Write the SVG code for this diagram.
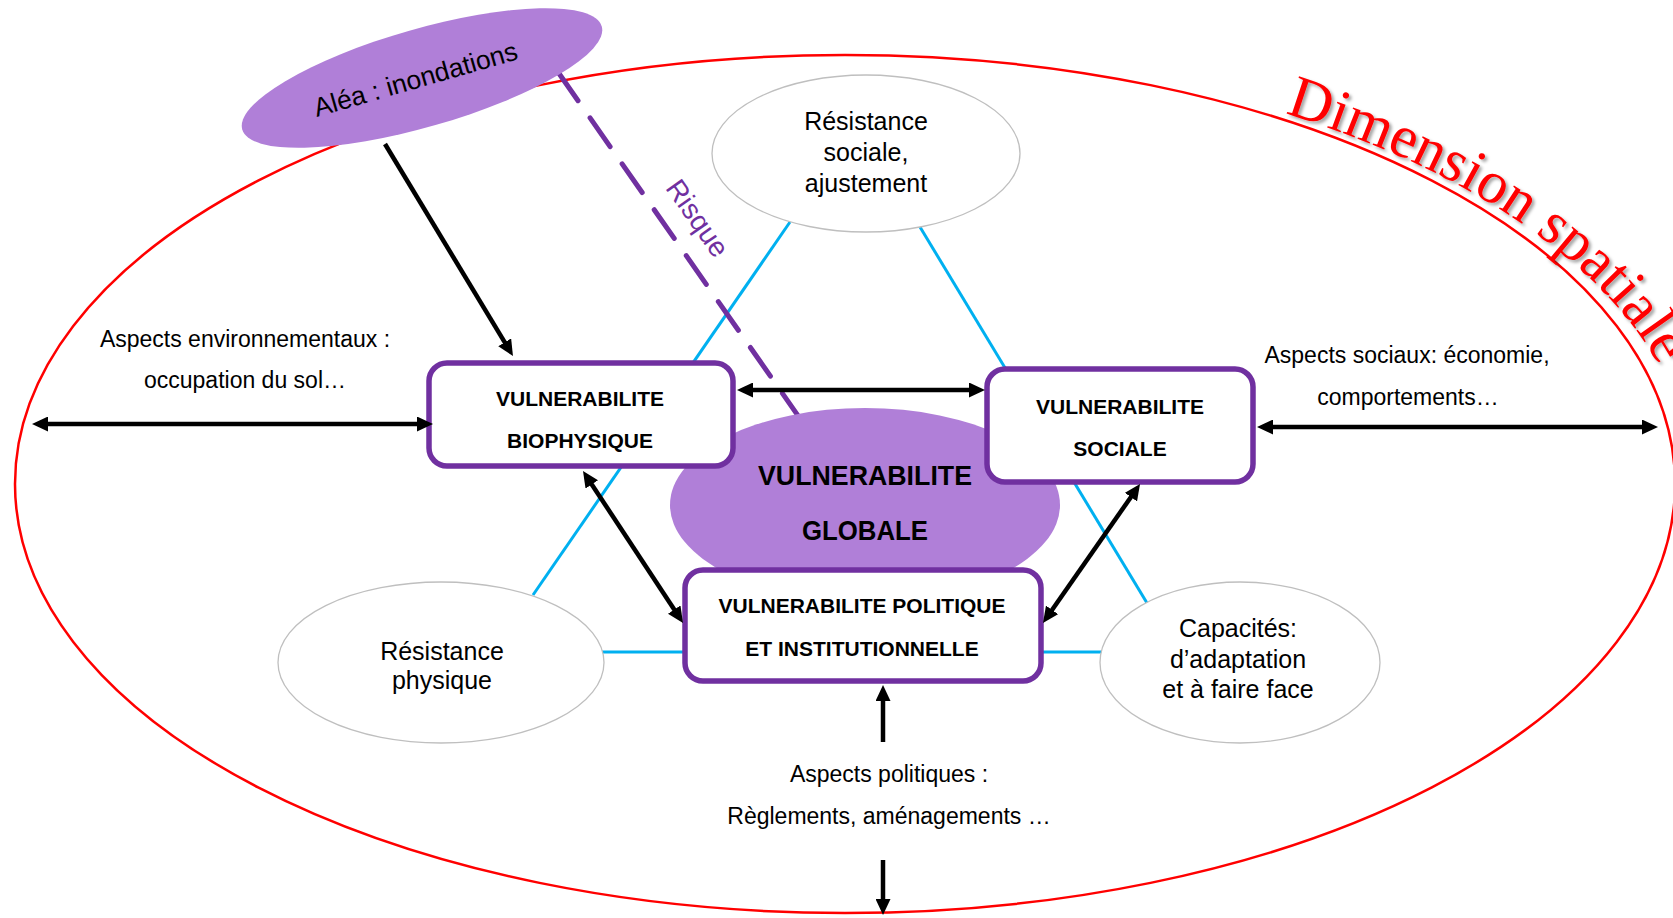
<svg xmlns="http://www.w3.org/2000/svg" width="1673" height="918" viewBox="0 0 1673 918">
<defs>
<style>
.txt{font-family:"Liberation Sans",Arial,sans-serif;fill:#000}
.asp{font-size:23px}
.ell{font-size:25px}
.bx{font-size:21px;font-weight:bold}
.box{fill:#fff;stroke:#7030a0;stroke-width:5.5}
.oval{fill:#fff;stroke:#bfbfbf;stroke-width:1.3}
.blue{stroke:#00b0f0;stroke-width:3;fill:none}
.arr{stroke:#000;stroke-width:4.5;fill:none}
.purp{fill:#b07fd8}
</style>
<marker id="ah" viewBox="0 0 16 15" markerUnits="userSpaceOnUse" markerWidth="16" markerHeight="15" refX="6" refY="7.5" orient="auto-start-reverse">
<path d="M0,0 L16,7.5 L0,15 z" fill="#000"/>
</marker>
<filter id="sh" x="-10%" y="-10%" width="130%" height="130%">
<feDropShadow dx="2.5" dy="2.5" stdDeviation="1.5" flood-color="#000" flood-opacity="0.35"/>
</filter>
<path id="arcp" d="M 845 50 A 846 434 0 0 1 1691 484"/>
</defs>

<g id="spatial">
<ellipse cx="845" cy="484" rx="830" ry="429" fill="none" stroke="#ff0000" stroke-width="2.5"/>
<text font-family="'Liberation Serif','Times New Roman',serif" font-size="60" fill="#ff0000" filter="url(#sh)"><textPath href="#arcp" startOffset="446">Dimension spatiale</textPath></text>
</g>

<g id="triangle">
<line class="blue" x1="790" y1="222" x2="533" y2="595"/>
<line class="blue" x1="920" y1="227" x2="1147" y2="603"/>
<line class="blue" x1="600" y1="652" x2="1105" y2="652"/>
</g>

<g id="res-sociale">
<ellipse class="oval" cx="866" cy="153.5" rx="154" ry="78.5"/>
<text class="txt ell" text-anchor="middle" x="866" y="130">Résistance</text>
<text class="txt ell" text-anchor="middle" x="866" y="161">sociale,</text>
<text class="txt ell" text-anchor="middle" x="866" y="192">ajustement</text>
</g>

<g id="res-physique">
<ellipse class="oval" cx="441" cy="662.5" rx="163" ry="80.5"/>
<text class="txt ell" text-anchor="middle" x="442" y="660">Résistance</text>
<text class="txt ell" text-anchor="middle" x="442" y="689">physique</text>
</g>

<g id="capacites">
<ellipse class="oval" cx="1240" cy="662.5" rx="140" ry="80.5"/>
<text class="txt ell" text-anchor="middle" x="1238" y="637">Capacités:</text>
<text class="txt ell" text-anchor="middle" x="1238" y="668">d’adaptation</text>
<text class="txt ell" text-anchor="middle" x="1238" y="698">et à faire face</text>
</g>

<g id="risque">
<line x1="558" y1="72" x2="815" y2="440" stroke="#7030a0" stroke-width="5" stroke-dasharray="35 21" stroke-linecap="round"/>
<text class="txt" font-size="28" style="fill:#7030a0" text-anchor="middle" transform="translate(698,218) rotate(55)" y="10">Risque</text>
</g>

<g id="globale">
<ellipse class="purp" cx="865" cy="505" rx="195" ry="97"/>
<text class="txt" font-size="28" font-weight="bold" text-anchor="middle" x="865" y="485" textLength="214" lengthAdjust="spacingAndGlyphs">VULNERABILITE</text>
<text class="txt" font-size="28" font-weight="bold" text-anchor="middle" x="865" y="540" textLength="126" lengthAdjust="spacingAndGlyphs">GLOBALE</text>
</g>

<g id="alea">
<ellipse class="purp" cx="422" cy="78" rx="187" ry="49" transform="rotate(-16 422 78)"/>
<text class="txt" font-size="26.5" text-anchor="middle" transform="translate(418,88) rotate(-16)">Aléa : inondations</text>
</g>

<g id="biophysique">
<rect class="box" x="429" y="363" width="304" height="103" rx="18"/>
<text class="txt bx" text-anchor="middle" x="580" y="406">VULNERABILITE</text>
<text class="txt bx" text-anchor="middle" x="580" y="448">BIOPHYSIQUE</text>
</g>

<g id="sociale">
<rect class="box" x="987" y="369" width="266" height="113" rx="18"/>
<text class="txt bx" text-anchor="middle" x="1120" y="414">VULNERABILITE</text>
<text class="txt bx" text-anchor="middle" x="1120" y="456">SOCIALE</text>
</g>

<g id="politique">
<rect class="box" x="685" y="570" width="356" height="111" rx="18"/>
<text class="txt bx" text-anchor="middle" x="862" y="613">VULNERABILITE POLITIQUE</text>
<text class="txt bx" text-anchor="middle" x="862" y="656">ET INSTITUTIONNELLE</text>
</g>

<g id="aspects">
<text class="txt asp" text-anchor="middle" x="245" y="347">Aspects environnementaux :</text>
<text class="txt asp" text-anchor="middle" x="245" y="388">occupation du sol…</text>
<text class="txt asp" text-anchor="middle" x="1407" y="363">Aspects sociaux: économie,</text>
<text class="txt asp" text-anchor="middle" x="1408" y="405">comportements…</text>
<text class="txt asp" text-anchor="middle" x="889" y="782">Aspects politiques :</text>
<text class="txt asp" text-anchor="middle" x="889" y="824">Règlements, aménagements …</text>
</g>

<g id="connectors">
<line class="arr" x1="385" y1="144" x2="507.8" y2="347.4" marker-end="url(#ah)"/>
<line class="arr" x1="42" y1="424" x2="423" y2="424" marker-start="url(#ah)" marker-end="url(#ah)"/>
<line class="arr" x1="747" y1="390" x2="975" y2="390" marker-start="url(#ah)" marker-end="url(#ah)"/>
<line class="arr" x1="588.5" y1="479.4" x2="677.5" y2="614.6" marker-start="url(#ah)" marker-end="url(#ah)"/>
<line class="arr" x1="1134.3" y1="492.2" x2="1048.7" y2="614.8" marker-start="url(#ah)" marker-end="url(#ah)"/>
<line class="arr" x1="1267" y1="427" x2="1648" y2="427" marker-start="url(#ah)" marker-end="url(#ah)"/>
<line class="arr" x1="883" y1="742" x2="883" y2="695" marker-end="url(#ah)"/>
<line class="arr" x1="883" y1="860" x2="883" y2="905" marker-end="url(#ah)"/>
</g>
</svg>
